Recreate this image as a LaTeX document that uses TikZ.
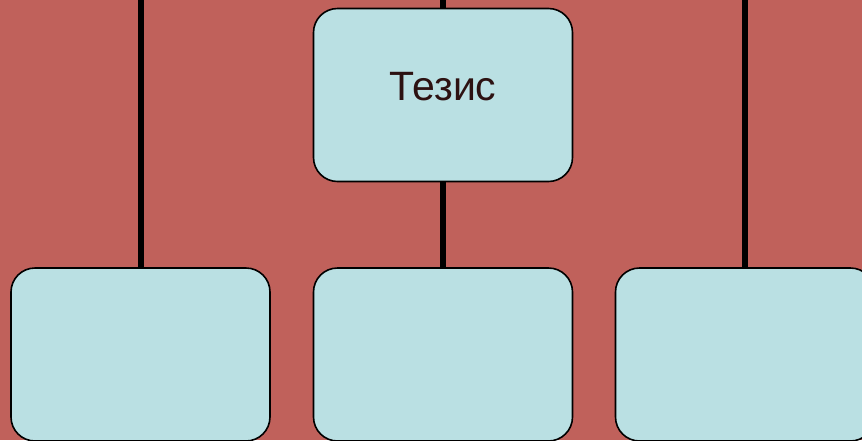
\documentclass[tikz,border=0pt]{standalone}
\usepackage{fontspec}
\setmainfont{Liberation Sans}
\definecolor{bgred}{RGB}{192,97,91}
\definecolor{boxfill}{RGB}{186,224,227}
\definecolor{txtbrown}{RGB}{45,18,18}
\tikzset{
  card/.style={draw=black, line width=1.6pt, fill=boxfill, rounded corners=24pt,
    minimum width=259pt, minimum height=173pt, inner sep=0pt},
  link/.style={draw=black, line width=6pt}
}
\begin{document}
\begin{tikzpicture}[x=1pt,y=-1pt]
\useasboundingbox (0,0) rectangle (862,440);
\clip (0,0) rectangle (862,440);
\fill[bgred] (0,0) rectangle (862,440);
\coordinate (t1) at (140.5,0);
\coordinate (t2) at (443,0);
\coordinate (t3) at (745,0);
\draw[link] (t1) -- (140.5,268);
\draw[link] (t3) -- (745,268);
\draw[link] (t2) -- (443,95);
\draw[link] (443,95) -- (443,354);
\node[card] (top) at (443,95) {};
\node[card] (b1) at (140.5,354.5) {};
\node[card] (b2) at (443,354.5) {};
\node[card] (b3) at (745,354.5) {};
\node[text=txtbrown, font=\fontsize{41}{41}\selectfont, anchor=base] (lbl) at (443,100) {Тезис};
\end{tikzpicture}
\end{document}
